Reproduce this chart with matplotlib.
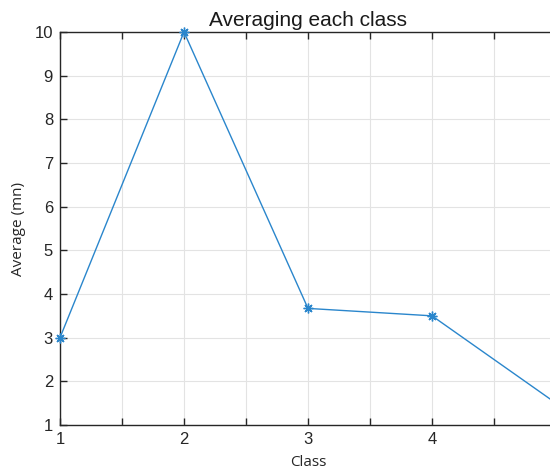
import matplotlib
matplotlib.use("Agg")
from matplotlib import pyplot as plt
import numpy as np

plt.rcParams['font.family'] = ['Liberation Sans', 'DejaVu Sans']

classes = [1, 2, 3, 4, 5]
averages = [3.0, 10.0, 3.67, 3.5, 1.5]

fig = plt.figure(figsize=(5.5, 4.74), dpi=100)
# axes run past the right edge, like the cropped original
ax = fig.add_axes([60 / 550, 49 / 474, 496 / 550, 393 / 474])

ax.plot(classes, averages, color="#2a86cc", lw=1.0,
        marker=(8, 2, 0), ms=7, mew=1.0, clip_on=False, zorder=3)

ax.set_xlim(1, 5)
ax.set_ylim(1, 10)
ax.set_xticks(np.arange(1, 5.01, 0.5))
ax.set_xticklabels(["1", "", "2", "", "3", "", "4", "", "5"])
ax.set_yticks(range(1, 11))
ax.grid(True, color="#e3e3e3", lw=0.8)
ax.set_axisbelow(True)

ax.tick_params(direction="in", length=5, width=1, colors="#262626",
               labelsize=12, top=True, right=False, pad=5)
ax.tick_params(axis="x", labeltop=False)
for side in ["left", "bottom", "top"]:
    ax.spines[side].set_color("#262626")
    ax.spines[side].set_linewidth(1.0)

ax.set_title("Averaging each class", fontsize=15, pad=4, color="#1a1a1a")
ax.set_xlabel("Class", fontsize=11, labelpad=6, color="#262626",
              family=["Open Sans", "DejaVu Sans"])
ax.set_ylabel("Average (mn)", fontsize=11, labelpad=6, color="#262626",
              family=["Open Sans", "DejaVu Sans"])

fig.savefig("out.png", dpi=100)
